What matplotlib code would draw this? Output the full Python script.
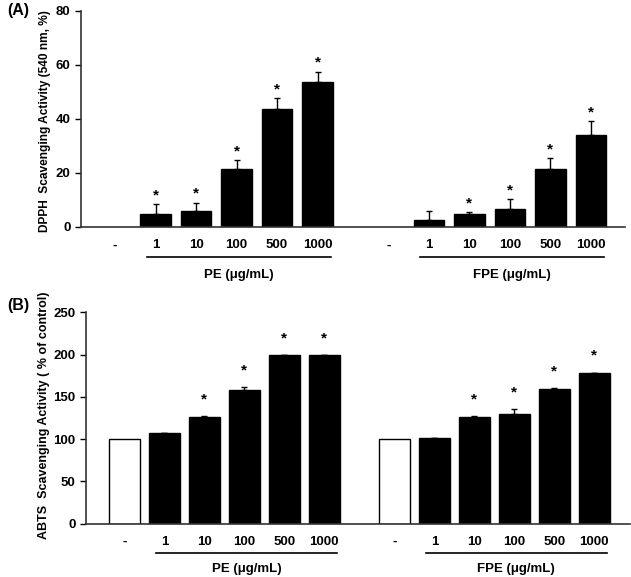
import numpy as np
import matplotlib
matplotlib.use("Agg")
import matplotlib.pyplot as plt
from matplotlib.transforms import blended_transform_factory

plt.rcParams['font.family'] = ['Liberation Sans', 'DejaVu Sans']

# Datos
conc_labels = ["-", "1", "10", "100", "500", "1000"]
groups = ["PE (μg/mL)", "FPE (μg/mL)"]

dpph_pe = [0, 4.9, 5.9, 21.6, 43.8, 53.8]
dpph_pe_err = [0, 3.5, 3.0, 3.0, 3.9, 3.6]
dpph_pe_sig = [False, True, True, True, True, True]
dpph_fpe = [0, 2.6, 4.9, 6.5, 21.4, 34.0]
dpph_fpe_err = [0, 3.2, 0.6, 3.7, 4.1, 5.1]
dpph_fpe_sig = [False, False, True, True, True, True]

abts_pe = [100, 107, 126.3, 158.6, 199, 199]
abts_pe_err = [0, 0.5, 1.5, 2.8, 0.3, 0.3]
abts_pe_sig = [False, False, True, True, True, True]
abts_fpe = [100, 101, 126.3, 130.2, 159.8, 178]
abts_fpe_err = [0, 0.8, 1.5, 5.5, 0.8, 0.8]
abts_fpe_sig = [False, False, True, True, True, True]

GAP = 6.75
pos = np.concatenate([np.arange(6), GAP + np.arange(6)])


def panel(ax, pe, pe_err, pe_sig, fpe, fpe_err, fpe_sig, ymax, ystep, star_off,
          xlim, label_y, show_ctrl):
    vals = pe + fpe
    errs = pe_err + fpe_err
    sigs = pe_sig + fpe_sig
    colors = ["white" if i % 6 == 0 else "black" for i in range(12)]
    for i in range(12):
        if i % 6 == 0 and not show_ctrl:
            continue
        ax.bar(pos[i], vals[i], width=0.76, color=colors[i], edgecolor="black",
               linewidth=1.0, zorder=2)
        if errs[i] > 0:
            ax.errorbar(pos[i], vals[i], yerr=[[0], [errs[i]]], fmt="none",
                        ecolor="black", elinewidth=1.0, capsize=2.5,
                        capthick=1.0, zorder=3)
        if sigs[i]:
            ax.annotate("*", (pos[i], vals[i] + errs[i]), xytext=(0, star_off),
                        textcoords="offset points", ha="center", va="center",
                        fontsize=11, fontweight="bold")

    ax.set_xlim(*xlim)
    ax.set_ylim(0, ymax)
    ax.set_yticks(np.arange(0, ymax + 1, ystep))
    ax.set_xticks(pos)
    ax.set_xticklabels(conc_labels * 2)
    ax.tick_params(axis="x", length=0, pad=9, labelsize=9.5)
    ax.tick_params(axis="y", direction="out", length=4, width=1.0, labelsize=9.5)
    for t in ax.get_xticklabels() + ax.get_yticklabels():
        t.set_fontweight("bold")
    for s in ["top", "right"]:
        ax.spines[s].set_visible(False)
    for s in ["left", "bottom"]:
        ax.spines[s].set_linewidth(1.2)
        ax.spines[s].set_color("#333333")

    # Lineas de grupo
    trans = blended_transform_factory(ax.transData, ax.transAxes)
    for g, start in zip(groups, [0, 6]):
        x0 = pos[start + 1] - 0.22
        x1 = pos[start + 5] + 0.32
        ax.plot([x0, x1], [-0.14, -0.14], color="black", lw=1.2,
                transform=trans, clip_on=False)
        ax.text((x0 + x1) / 2, label_y, g, transform=trans, ha="center",
                va="center", fontsize=9.5, fontweight="bold")


fig = plt.figure(figsize=(6.31, 5.77), dpi=100)

axA = fig.add_axes([0.1284, 0.6066, 0.862, 0.3749])
panel(axA, dpph_pe, dpph_pe_err, dpph_pe_sig, dpph_fpe, dpph_fpe_err,
      dpph_fpe_sig, 80, 20, 6.5, (-0.84, 12.59), -0.222, False)

axB = fig.add_axes([0.1363, 0.0924, 0.862, 0.3663])
panel(axB, abts_pe, abts_pe_err, abts_pe_sig, abts_fpe, abts_fpe_err,
      abts_fpe_sig, 250, 50, 12, (-0.96, 12.64), -0.215, True)

# Etiquetas del eje y
fig.text(45 / 631, 1 - 232 / 577, "DPPH  Scavenging Activity (540 nm, %)",
         rotation=90, ha="center", va="bottom", fontsize=8.6, fontweight="bold")
fig.text(44 / 631, 1 - 415.5 / 577, "ABTS  Scavenging Activity ( % of control)",
         rotation=90, ha="center", va="center", fontsize=9, fontweight="bold")

fig.text(0.012, 0.982, "(A)", fontsize=11.5, fontweight="bold", va="center")
fig.text(0.012, 0.47, "(B)", fontsize=11.5, fontweight="bold", va="center")

fig.savefig("out.png", dpi=100)
